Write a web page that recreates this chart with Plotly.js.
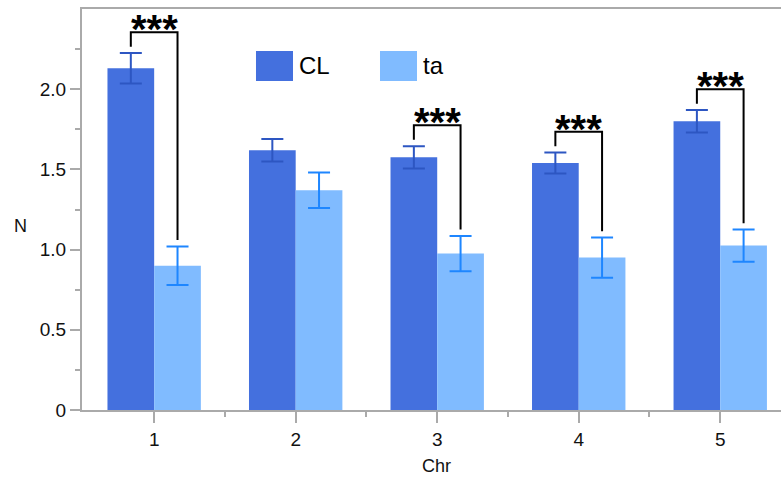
<!DOCTYPE html>
<html>
<head>
<meta charset="utf-8">
<script src="https://cdn.plot.ly/plotly-3.0.1.min.js"></script>
<style>html,body{margin:0;padding:0;overflow:hidden;background:#fff;}</style>
</head>
<body>
<div id="chart"></div>
<script>
// ---- data ----
const categories = [1, 2, 3, 4, 5];
const clMean = [2.13, 1.62, 1.575, 1.54, 1.80];
const clErr  = [0.095, 0.07, 0.07, 0.065, 0.07];
const taMean = [0.90, 1.37, 0.975, 0.95, 1.025];
const taErr  = [0.12, 0.11, 0.11, 0.125, 0.10];
const sigLabels = ['***', '', '***', '***', '***'];
const seriesNames = ['CL', 'ta'];
const yTickVals = [0, 0.5, 1.0, 1.5, 2.0];
const yTickText = ['0', '0.5', '1.0', '1.5', '2.0'];

const FONT = 'Liberation Sans, Arial, Helvetica, sans-serif';
const clColor = '#4470DE', taColor = '#80BBFF';
const bargap = 0.34;
const off = (1 - bargap) / 4;

const traces = [
  {type: 'bar', name: seriesNames[0], x: categories, y: clMean,
   marker: {color: clColor, line: {width: 0}},
   error_y: {type: 'data', array: clErr, visible: true, color: '#2D56C2', thickness: 2, width: 11}},
  {type: 'bar', name: seriesNames[1], x: categories, y: taMean,
   marker: {color: taColor, line: {width: 0}},
   error_y: {type: 'data', array: taErr, visible: true, color: '#1E86FF', thickness: 2, width: 11}}
];

const shapes = [];
const annotations = [];
categories.forEach((c, i) => {
  if (!sigLabels[i]) return;
  const a = clMean[i] + clErr[i];
  const b = taMean[i] + taErr[i];
  const top = Math.max(a, b) + 0.13;
  shapes.push({type: 'path', xref: 'x', yref: 'y',
    path: `M ${c - off} ${a + 0.04} L ${c - off} ${top} L ${c + off} ${top} L ${c + off} ${b + 0.04}`,
    line: {color: '#000', width: 2}});
  annotations.push({xref: 'x', yref: 'y', x: c, y: top, text: '<b>' + sigLabels[i] + '</b>', showarrow: false,
    yanchor: 'bottom', yshift: -21, font: {family: FONT, size: 40, color: '#000'}});
});

// custom legend (large swatches)
const legendItems = [
  {name: seriesNames[0], color: clColor, x0: 0.2454, x1: 0.2976},
  {name: seriesNames[1], color: taColor, x0: 0.4203, x1: 0.4725}
];
legendItems.forEach(it => {
  shapes.push({type: 'rect', xref: 'paper', yref: 'paper', x0: it.x0, x1: it.x1, y0: 0.8204, y1: 0.8953,
    fillcolor: it.color, line: {width: 0}});
  annotations.push({xref: 'paper', yref: 'paper', x: it.x1 + 0.005, y: 0.858, text: it.name,
    showarrow: false, xanchor: 'left', yanchor: 'middle', font: {family: FONT, size: 24, color: '#000'}});
});

// y-axis title (upright)
annotations.push({xref: 'paper', yref: 'paper', x: -0.0874, y: 0.46, text: 'N', showarrow: false,
  xanchor: 'center', yanchor: 'middle', font: {family: FONT, size: 18, color: '#111'}});

const layout = {
  width: 800, height: 477,
  margin: {l: 82, r: 9, t: 9, b: 67},
  paper_bgcolor: '#fff', plot_bgcolor: '#fff',
  showlegend: false,
  barmode: 'group', bargap: bargap, bargroupgap: 0,
  font: {family: FONT, size: 18, color: '#111'},
  xaxis: {
    range: [0.49, 5.5], tickmode: 'array', tickvals: categories, ticktext: categories.map(String),
    showgrid: false, zeroline: false, showline: true, linecolor: '#aaa', linewidth: 2, mirror: true,
    ticks: 'outside', ticklen: 11, tickwidth: 2, tickcolor: '#aaa',
    minor: {ticks: 'outside', ticklen: 5, tickwidth: 2, tickcolor: '#aaa', tickvals: [1.5, 2.5, 3.5, 4.5]},
    tickfont: {family: FONT, size: 19, color: '#111'},
    title: {text: 'Chr', font: {family: FONT, size: 18, color: '#111'}, standoff: 11}
  },
  yaxis: {
    range: [0, 2.5], tickmode: 'array', tickvals: yTickVals, ticktext: yTickText,
    showgrid: false, zeroline: false, showline: true, linecolor: '#aaa', linewidth: 2, mirror: true,
    ticks: 'outside', ticklen: 10, tickwidth: 2, tickcolor: '#aaa',
    minor: {ticks: 'outside', ticklen: 5, tickwidth: 2, tickcolor: '#aaa', tickvals: [0.25, 0.75, 1.25, 1.75, 2.25]},
    tickfont: {family: FONT, size: 19, color: '#111'}
  },
  shapes: shapes,
  annotations: annotations
};

Plotly.newPlot('chart', traces, layout, {displayModeBar: false, staticPlot: true});
</script>
</body>
</html>
